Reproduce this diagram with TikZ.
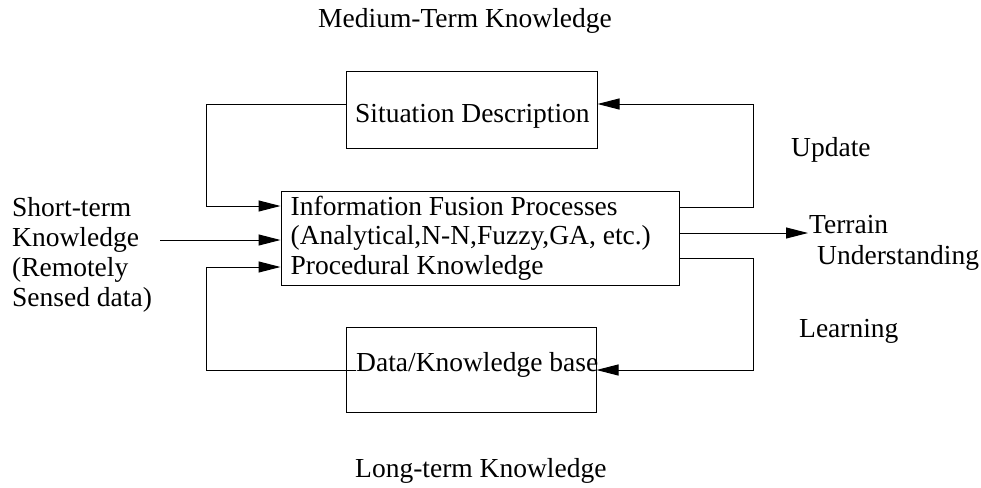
\documentclass[tikz,border=0pt]{standalone}
\usepackage{fontspec}
\setmainfont{Liberation Serif}
\usetikzlibrary{arrows.meta}
\newcommand\stk[1]{\begin{tabular}[t]{@{}l@{}}#1\end{tabular}}
\begin{document}
\begin{tikzpicture}[x=1pt,y=-1pt,
  every node/.style={inner sep=0pt, font=\fontsize{27.5}{30}\selectfont},
  lbl/.style={anchor=base west},
  box/.style={draw, line width=1pt},
  conn/.style={line width=1pt},
  arr/.style={conn, -{Triangle[length=22pt,width=11pt]}}]
\useasboundingbox (0,0) rectangle (981,487);
% boxes
\node[box, minimum width=251pt, minimum height=77pt] (sit) at (471.5,109.5) {};
\node[box, minimum width=398pt, minimum height=94pt] (ifp) at (480,238) {};
\node[box, minimum width=250pt, minimum height=85pt] (dk) at (471,369.5) {};
% texts
\node[lbl] (sitt) at (355,122) {Situation Description};
\node[lbl, font=\fontsize{27.5}{29.5}\selectfont] (ifpt) at (290.5,215) {\stk{Information Fusion Processes\\(Analytical,N-N,Fuzzy,GA, etc.)\\Procedural Knowledge}};
\node[lbl] (dkt) at (356,371) {Data/Knowledge base};
\node[lbl] (st) at (12,216) {\stk{Short-term\\Knowledge\\(Remotely\\Sensed data)}};
\node[lbl] (mt) at (318,28) {Medium-Term Knowledge};
\node[lbl] (lt) at (355,477) {Long-term Knowledge};
\node[lbl] (up) at (791,156) {Update};
\node[lbl, font=\fontsize{27.5}{31}\selectfont] (ter) at (809,233) {\stk{Terrain\\\hspace{8pt}Understanding}};
\node[lbl] (lrn) at (799,337) {Learning};
% coordinates
\coordinate (ul) at (206,104);
\coordinate (ul2) at (206,206);
\coordinate (ur) at (753,104);
\coordinate (ur2) at (753,207);
\coordinate (sin) at (160,240);
\coordinate (tout) at (808,233);
\coordinate (lr) at (753,258);
\coordinate (lr2) at (753,370);
\coordinate (ll) at (206,370);
\coordinate (ll2) at (206,267);
% connectors
\draw[arr] (sit.west|-ul) -- (ul) -- (ul2) -- (ifp.west|-ul2);
\draw[arr] (ifp.east|-ur2) -- (ur2) -- (ur) -- (sit.east|-ur);
\draw[arr] (sin) -- (ifp.west|-sin);
\draw[arr] (ifp.east|-tout) -- (tout);
\draw[arr] (ifp.east|-lr) -- (lr) -- (lr2) -- (dk.east|-lr2);
\draw[arr] (dkt.west|-ll) -- (ll) -- (ll2) -- (ifp.west|-ll2);
\end{tikzpicture}
\end{document}
